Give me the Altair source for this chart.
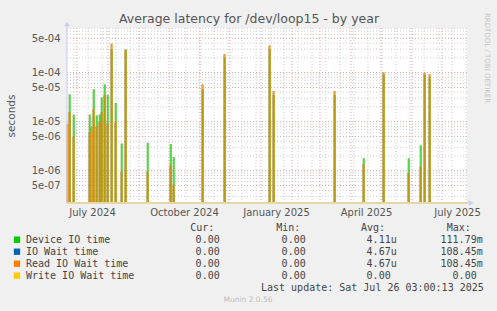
import altair as alt
import pandas as pd

# ---------------- data ----------------
dev_dates = ["2024-06-24", "2024-06-28", "2024-07-14", "2024-07-18", "2024-07-21",
             "2024-07-24", "2024-07-26", "2024-07-29", "2024-08-01", "2024-08-05",
             "2024-08-09", "2024-08-15", "2024-08-19", "2024-09-10", "2024-10-03",
             "2024-10-06", "2024-11-04", "2024-11-26", "2025-01-10", "2025-01-14",
             "2025-03-16", "2025-04-14", "2025-05-04", "2025-05-29", "2025-06-10",
             "2025-06-14", "2025-06-19"]
dev_vals = [3.6e-5, 1.4e-5, 1.4e-5, 4.6e-5, 1.35e-5,
            1.4e-5, 3.1e-5, 5.8e-5, 3.5e-5, 3.0e-4,
            2.4e-5, 3.6e-6, 3.0e-4, 3.7e-6, 3.5e-6,
            1.9e-6, 4.5e-5, 2.0e-4, 3.0e-4, 3.5e-5,
            3.5e-5, 1.8e-6, 9.0e-5, 1.8e-6, 3.3e-6,
            9.0e-5, 8.0e-5]

read_dates = ["2024-06-22", "2024-06-24", "2024-06-28", "2024-07-14", "2024-07-16",
              "2024-07-18", "2024-07-21", "2024-07-24", "2024-07-26", "2024-07-29",
              "2024-08-01", "2024-08-05", "2024-08-09", "2024-08-15", "2024-08-19",
              "2024-09-10", "2024-10-03", "2024-10-06", "2024-11-04", "2024-11-26",
              "2025-01-10", "2025-01-14", "2025-03-16", "2025-04-14", "2025-05-04",
              "2025-05-29", "2025-06-10", "2025-06-14", "2025-06-19"]
read_vals = [9.0e-6, 1.55e-5, 5.0e-6, 6.0e-6, 8.0e-6,
             1.8e-5, 8.0e-6, 1.0e-5, 1.55e-5, 3.5e-5,
             9.3e-6, 3.9e-4, 1.0e-5, 9.5e-7, 2.9e-4,
             9.5e-7, 1.3e-6, 5.0e-7, 5.8e-5, 2.4e-4,
             3.6e-4, 4.2e-5, 4.2e-5, 1.35e-6, 1.02e-4,
             9.0e-7, 1.2e-6, 1.0e-4, 9.3e-5]

series_names = ["Device IO time", "IO Wait time", "Read IO Wait time", "Write IO Wait time"]
series_colors = ["#00CC00", "#0066B3", "#FF8000", "#FFCC00"]
cur_vals = ["0.00", "0.00", "0.00", "0.00"]
min_vals = ["0.00", "0.00", "0.00", "0.00"]
avg_vals = ["4.11u", "4.67u", "4.67u", "0.00"]
max_vals = ["111.79m", "108.45m", "108.45m", "0.00"]

y_ticks = [5e-7, 1e-6, 5e-6, 1e-5, 5e-5, 1e-4, 5e-4]
x_label_dates = [(2024, 7), (2024, 10), (2025, 1), (2025, 4), (2025, 7)]

title_text = "Average latency for /dev/loop15 - by year"
update_text = "Last update: Sat Jul 26 03:00:13 2025"
munin_text = "Munin 2.0.56"
side_text = "RRDTOOL / TOBI OETIKER"

# ---------------- layout ----------------
PL, PT, W, H = 67, 28, 400, 175
Y_DOMAIN = [2.2e-7, 8.1e-4]
X_DOMAIN = ["2024-06-21T00:00:00Z", "2025-07-26T00:00:00Z"]

xscale = alt.Scale(type="utc", domain=X_DOMAIN)
yscale = alt.Scale(type="log", domain=Y_DOMAIN)

dev_df = pd.DataFrame({"date": dev_dates, "v": dev_vals})
read_df = pd.DataFrame({"date": read_dates, "v": read_vals})

# grid positions
minor_y, major_y = [], []
for e in range(-7, -3):
    for k in range(1, 10):
        val = k * 10.0 ** e
        if Y_DOMAIN[0] <= val <= Y_DOMAIN[1]:
            (major_y if k in (1, 5) else minor_y).append(val)
major_x = [f"{y}-{m:02d}-01" for y, m in
           [(2024, 7), (2024, 8), (2024, 9), (2024, 10), (2024, 11), (2024, 12),
            (2025, 1), (2025, 2), (2025, 3), (2025, 4), (2025, 5), (2025, 6), (2025, 7)]]
minor_x = [d.strftime("%Y-%m-%d") for d in pd.date_range("2024-06-28", "2025-07-25", freq="14D")]

FONT = "DejaVu Sans"
MONO = "DejaVu Sans Mono"

x_axis = alt.Axis(values=[alt.DateTime(year=y, month=m, date=16, utc=True) for y, m in x_label_dates],
                  labelExpr="utcFormat(datum.value, '%B %Y')", domain=False, ticks=False,
                  grid=False, labelFont=FONT, labelFontSize=10, labelColor="#555555",
                  labelPadding=4, title=None, labelFlush=False, labelOverlap=False)
y_axis = alt.Axis(values=y_ticks, labelExpr="replace(format(datum.value, '.0e'), 'e-', 'e-0')",
                  domain=False, ticks=False, grid=False, labelFont=FONT, labelFontSize=10,
                  labelColor="#555555", labelPadding=7, title=None)

grid_minor_y = alt.Chart(pd.DataFrame({"v": minor_y})).mark_rule(
    color="#CFCFCF", strokeDash=[1, 2], strokeWidth=1).encode(y=alt.Y("v:Q", scale=yscale, axis=y_axis))
grid_major_y = alt.Chart(pd.DataFrame({"v": major_y})).mark_rule(
    color="#E9A6A6", strokeDash=[1, 2], strokeWidth=1).encode(y=alt.Y("v:Q", scale=yscale))
grid_minor_x = alt.Chart(pd.DataFrame({"d": minor_x})).mark_rule(
    color="#CFCFCF", strokeDash=[1, 2], strokeWidth=1).encode(x=alt.X("d:T", scale=xscale, axis=x_axis))
grid_major_x = alt.Chart(pd.DataFrame({"d": major_x})).mark_rule(
    color="#E9A6A6", strokeDash=[1, 2], strokeWidth=1).encode(x=alt.X("d:T", scale=xscale))

def spikes(df, color, width, opacity=1.0, dx=0):
    return alt.Chart(df).mark_rule(color=color, strokeWidth=width, opacity=opacity, xOffset=dx).encode(
        x=alt.X("date:T", scale=xscale), y=alt.Y("v:Q", scale=yscale), y2=alt.value(H))

shade_dev = spikes(dev_df, "#90A850", 2.0, 0.35, -1)
shade_read = spikes(read_df, "#B08030", 2.0, 0.45, -1)
line_dev = spikes(dev_df, "#00CC00", 1.2)
line_read = spikes(read_df, "#FF8000", 1.2)

one = pd.DataFrame({"a": [0]})

def rule(x, x2, y, y2, color, w=1):
    return alt.Chart(one).mark_rule(color=color, strokeWidth=w).encode(
        x=alt.value(x), x2=alt.value(x2), y=alt.value(y), y2=alt.value(y2))

axis_left = rule(0, 0, -4, H, "#C8CCF0", 1)
axis_bottom = rule(0, W, H, H, "#E6D6A6", 2)
axis_bottom_ext = rule(W, W + 3, H, H, "#C8CCF0", 1)
arrow_up = alt.Chart(one).mark_point(shape="triangle-up", filled=True, color="#C8CCF0",
                                     size=30, opacity=1).encode(x=alt.value(0), y=alt.value(-4))
arrow_right = alt.Chart(one).mark_point(shape="triangle-right", filled=True, color="#C8CCF0",
                                        size=30, opacity=1).encode(x=alt.value(W + 4), y=alt.value(H))

def txt(s, X, Y, font=MONO, size=10, color="#444444", align="left", angle=0, baseline="middle"):
    kw = dict(font=font, fontSize=size, color=color, align=align, baseline=baseline)
    if angle:
        kw["angle"] = angle
    return alt.Chart(pd.DataFrame({"t": [s]})).mark_text(**kw).encode(
        x=alt.value(X - PL), y=alt.value(Y - PT), text="t:N")

texts = [
    txt(title_text, 249, 19, font=FONT, size=12.5, color="#555555", align="center"),
    txt("seconds", 12, 116, font=FONT, size=10.5, color="#555555", align="center", angle=270),
    txt(side_text, 487, 58, font=FONT, size=7, color="#C4C4C4", align="center", angle=90),
    txt("Cur:", 190.3, 227.7), txt("Min:", 276.3, 227.7),
    txt("Avg:", 361, 227.7), txt("Max:", 446.7, 227.7),
    txt(update_text, 261, 287.7),
    txt(munin_text, 248, 300, font=FONT, size=7.5, color="#BDBDBD", align="center"),
]
row_y = [239.7, 251.7, 263.7, 275.7]
squares = []
for i, name in enumerate(series_names):
    yy = row_y[i]
    squares.append(alt.Chart(one).mark_square(color=series_colors[i], size=40, opacity=1).encode(
        x=alt.value(17 - PL), y=alt.value(yy - PT)))
    texts.append(txt(name, 26, yy))
    texts.append(txt(cur_vals[i], 219.7, yy, align="right"))
    texts.append(txt(min_vals[i], 305.7, yy, align="right"))
    texts.append(txt(avg_vals[i], 396.7 - (6.02 if len(avg_vals[i]) == 4 else 0), yy, align="right"))
    texts.append(txt(max_vals[i], 482.7 - (6.02 if max_vals[i][-1].isdigit() else 0), yy, align="right"))

chart = alt.layer(
    grid_minor_y, grid_minor_x, grid_major_y, grid_major_x,
    shade_dev, shade_read, line_dev, line_read,
    axis_bottom, axis_bottom_ext, axis_left, arrow_up, arrow_right,
    *squares, *texts
).properties(
    width=W, height=H,
    autosize=alt.AutoSizeParams(type="none"),
    padding={"left": PL, "top": PT, "right": 497 - PL - W, "bottom": 311 - PT - H},
    background="#F0F0F0",
).configure_view(fill="#FFFFFF", stroke=None)

chart.save("out.html", embed_options={"renderer": "svg", "actions": False})
